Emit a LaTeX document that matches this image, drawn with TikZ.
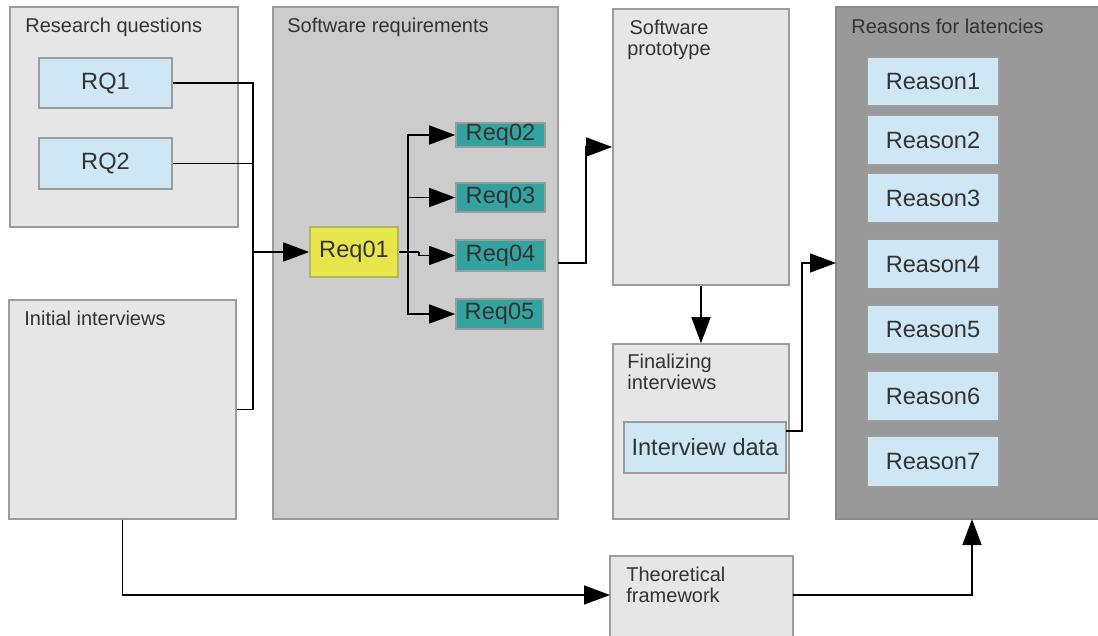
\documentclass[tikz,border=0pt]{standalone}
\usepackage{fontspec}
\setmainfont{Liberation Sans}
\usetikzlibrary{arrows.meta,fit}
\definecolor{grpfill}{HTML}{E6E6E6}
\definecolor{reqfill}{HTML}{CCCCCC}
\definecolor{rsnfill}{HTML}{999999}
\definecolor{bordergray}{HTML}{9C9C9C}
\definecolor{darkborder}{HTML}{8A8A8A}
\definecolor{lblue}{HTML}{CFE7F5}
\definecolor{yel}{HTML}{E6E64C}
\definecolor{tealreq}{HTML}{33A3A0}
\definecolor{txt}{HTML}{333333}
\begin{document}
\begin{tikzpicture}[x=0.5pt,y=-0.5pt,
  box/.style={draw=bordergray, line width=0.8pt, inner sep=0pt},
  grp/.style={box, fill=grpfill},
  reqgrp/.style={box, fill=reqfill},
  rsngrp/.style={box, draw=darkborder, fill=rsnfill},
  title/.style={anchor=north west, inner sep=0pt, text=txt, font=\fontsize{10}{10.5}\selectfont, align=left},
  lbltext/.style={inner sep=0pt, text=txt, font=\fontsize{11.8}{13}\selectfont},
  bluebox/.style={box, fill=lblue},
  yelbox/.style={box, fill=yel, draw=yel!70!black!80},
  tealbox/.style={box, fill=tealreq, draw=bordergray},
  conn/.style={line width=0.75pt, draw=black},
  arr/.style={conn, -{Triangle[length=13pt,width=9.5pt]}},
]
\useasboundingbox (0,0) rectangle (1098,636);
\clip (0,0) rectangle (1098,636);

% groups
\node[grp, fit={(10,7) (238,227)}] (rqgrp) {};
\node[grp, fit={(9,300) (236,519)}] (iigrp) {};
\node[reqgrp, fit={(273,7) (558,519)}] (swreq) {};
\node[grp, fit={(613,9) (789,285)}] (proto) {};
\node[grp, fit={(613,344) (789,519)}] (fin) {};
\node[grp, fit={(610,556) (793,650)}] (theo) {};
\node[rsngrp, fit={(836,7) (1104,519)}] (reasons) {};

% titles
\node[title] (trq) at (25,18) {Research questions};
\node[title] (tii) at (24,311) {Initial interviews};
\node[title] (tsw) at (287,18) {Software requirements};
\node[title, anchor=north, align=center] (tproto) at (669,20) {Software\\prototype};
\node[title] (tfin) at (627,354) {Finalizing\\interviews};
\node[title] (ttheo) at (626,567) {Theoretical\\framework};
\node[title] (trsn) at (851,19) {Reasons for latencies};

% inner boxes
\node[bluebox, fit={(39,58) (172,108)}, label={[lbltext]center:RQ1}] (rq1) {};
\node[bluebox, fit={(39,138) (172,189)}, label={[lbltext]center:RQ2}] (rq2) {};
\node[yelbox, fit={(310,227) (398,277)}, label={[lbltext]center:Req01}] (req01) {};
\node[tealbox, fit={(456,123) (545,147)}, label={[lbltext]center:Req02}] (req02) {};
\node[tealbox, fit={(456,183) (545,212)}, label={[lbltext]center:Req03}] (req03) {};
\node[tealbox, fit={(456,240) (545,271)}, label={[lbltext]center:Req04}] (req04) {};
\node[tealbox, fit={(456,299) (543,329)}, label={[lbltext]center:Req05}] (req05) {};
\node[bluebox, fit={(624,422) (786,473)}, label={[lbltext]center:Interview data}] (idata) {};
\node[bluebox, fit={(867,57) (999,106)}, label={[lbltext]center:Reason1}] (r1) {};
\node[bluebox, fit={(867,115) (999,165)}, label={[lbltext]center:Reason2}] (r2) {};
\node[bluebox, fit={(867,173) (999,223)}, label={[lbltext]center:Reason3}] (r3) {};
\node[bluebox, fit={(867,239) (999,289)}, label={[lbltext]center:Reason4}] (r4) {};
\node[bluebox, fit={(867,305) (999,354)}, label={[lbltext]center:Reason5}] (r5) {};
\node[bluebox, fit={(867,371) (999,421)}, label={[lbltext]center:Reason6}] (r6) {};
\node[bluebox, fit={(867,436) (999,487)}, label={[lbltext]center:Reason7}] (r7) {};

% junction coordinates
\coordinate (j1) at (253,252);
\coordinate (bx) at (408,252);
\coordinate (bj) at (419,252);
\coordinate (swout) at (558,263);
\coordinate (k1) at (586,263);
\coordinate (idout) at (786,431);
\coordinate (k2) at (802,431);
\coordinate (rin) at (836,263);
\coordinate (theoin) at (610,595);
\coordinate (theoout) at (793,595);
\coordinate (rbot) at (972,519);

% connectors
\draw[conn] (rq1.east) -| (j1);
\draw[conn] (rq2.east) -| (j1);
\draw[conn] (iigrp.east) -| (j1);
\draw[arr] (j1) -- (req01.west);
\draw[conn] (req01.east) -- (bj);
\draw[arr] (bx) |- (req02.west);
\draw[arr] (bx) |- (req03.west);
\draw[arr] (bj) |- (req04.west);
\draw[arr] (bx) |- (req05.west);
\draw[arr] (swout) -- (k1) |- (proto.west);
\draw[arr] (proto.south) -- (fin.north);
\draw[arr] (idout) -- (k2) |- (rin);
\draw[arr] (iigrp.south) |- (theoin);
\draw[arr] (theoout) -| (rbot);
\end{tikzpicture}
\end{document}
